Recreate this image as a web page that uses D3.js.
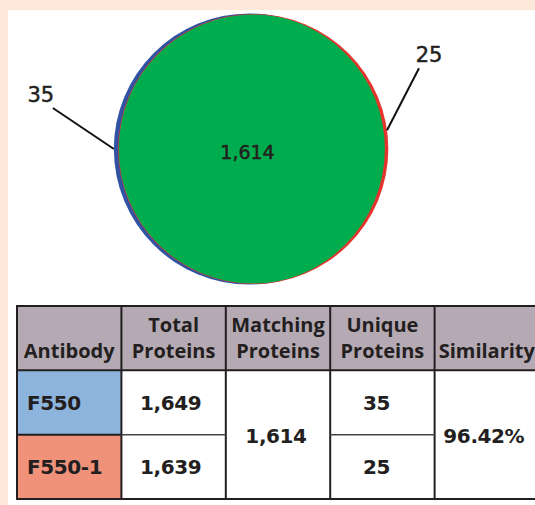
<!DOCTYPE html>
<html>
<head>
<meta charset="utf-8">
<script src="https://cdn.jsdelivr.net/npm/d3@7"></script>
<style>
  html, body { margin: 0; padding: 0; background: #fde8d9; }
  svg { display: block; }
</style>
</head>
<body>
<div id="graph"></div>
<script>
// The data...
var antibodies  = [ 'F550', 'F550-1' ];
var totals      = [ 1649, 1639 ];
var uniques     = [ 35, 25 ];
var matching    = 1614;
var similarity  = '96.42%';

var headerTop    = [ '', 'Total', 'Matching', 'Unique', '' ];
var headerBottom = [ 'Antibody', 'Proteins', 'Proteins', 'Proteins', 'Similarity' ];

var circleColours = [ '#3152a3', '#e5342b' ];
var overlapColour = '#00ad4e';
var cellColours   = [ '#8db4dc', '#f0917a' ];
var headerColour  = '#b5a9b3';
var ink           = '#231f20';

var labelFont = 'DejaVu Sans, sans-serif';
var headFont  = 'Open Sans, sans-serif';
var cellFont  = 'DejaVu Sans, sans-serif';

var width  = 535;
var height = 505;

var svg = d3.select ('#graph').append ('svg')
            .attr ('width', width)
            .attr ('height', height);

// white panel on the beige page
svg.append ('rect')
   .attr ('x', 8).attr ('y', 10)
   .attr ('width', width - 8).attr ('height', height - 10)
   .attr ('fill', '#ffffff');

//
// Venn: two circles, area proportional to total proteins
//
var rScale = d3.scaleSqrt ()
               .domain ([ 0, totals[0] ])
               .range ([ 0, 135.5 ]);

var r1 = rScale (totals[0]);
var r2 = rScale (totals[1]);
var k  = rScale (1);

function overlapArea (d)
{
    if (d >= r1 + r2) return 0;
    if (d <= Math.abs (r1 - r2)) return Math.PI * Math.min (r1, r2) * Math.min (r1, r2);
    var a = r1 * r1 * Math.acos ((d * d + r1 * r1 - r2 * r2) / (2 * d * r1));
    var b = r2 * r2 * Math.acos ((d * d + r2 * r2 - r1 * r1) / (2 * d * r2));
    var c = 0.5 * Math.sqrt ((-d + r1 + r2) * (d + r1 - r2) * (d - r1 + r2) * (d + r1 + r2));
    return a + b - c;
}

// find the centre distance giving the matching area
var target = Math.PI * k * k * matching;
var lo = Math.abs (r1 - r2), hi = r1 + r2;
for (var i = 0; i < 60; i++)
{
    var mid = (lo + hi) / 2;
    if (overlapArea (mid) > target) lo = mid; else hi = mid;
}
var dist = (lo + hi) / 2;

var cx = 251.5, cy = 149;
var c1x = cx - dist / 2 - (r1 - r2) / 2;
var c2x = c1x + dist;

svg.append ('clipPath')
   .attr ('id', 'clipA')
   .append ('circle')
   .attr ('cx', c1x).attr ('cy', cy).attr ('r', r1);

svg.append ('circle')
   .attr ('cx', c1x).attr ('cy', cy).attr ('r', r1)
   .attr ('fill', circleColours[0]);

svg.append ('circle')
   .attr ('cx', c2x).attr ('cy', cy).attr ('r', r2)
   .attr ('fill', circleColours[1]);

svg.append ('circle')
   .attr ('cx', c2x).attr ('cy', cy).attr ('r', r2 - 0.6)
   .attr ('clip-path', 'url(#clipA)')
   .attr ('fill', overlapColour);

function label (x, y, txt, size)
{
    svg.append ('text')
       .attr ('x', x).attr ('y', y)
       .attr ('text-anchor', 'middle')
       .attr ('font-family', labelFont)
       .attr ('font-size', size)
       .attr ('fill', ink)
       .attr ('stroke', ink)
       .attr ('stroke-width', 0.5)
       .text (txt);
}

label (cx - 4, cy + 10, d3.format (',') (matching), '19px');

// leader lines for the unique counts
var leaders = [
    { cx: c1x, r: r1, angle: Math.PI,            dx: -61, dy: -41, tx: -12, ty: -6 },
    { cx: c2x, r: r2, angle: -8 * Math.PI / 180, dx:  32, dy: -62, tx:  10, ty: -6 }
];

leaders.forEach (function (l, i)
{
    var ex = l.cx + l.r * Math.cos (l.angle);
    var ey = cy + l.r * Math.sin (l.angle);

    svg.append ('line')
       .attr ('x1', ex).attr ('y1', ey)
       .attr ('x2', ex + l.dx).attr ('y2', ey + l.dy)
       .attr ('stroke', '#111')
       .attr ('stroke-width', 2);

    label (ex + l.dx + l.tx, ey + l.dy + l.ty, uniques[i], '21px');
});

//
// Table
//
var xBand = d3.scaleBand ()
              .domain (d3.range (headerBottom.length))
              .range ([ 17, 539 ]);

var yBand = d3.scaleBand ()
              .domain ([ 0, 1, 2 ])
              .range ([ 306, 499 ]);

var bw = xBand.bandwidth ();
var bh = yBand.bandwidth ();

var table = svg.append ('g')
               .attr ('font-weight', 700)
               .attr ('fill', ink);

// header
table.append ('rect')
     .attr ('x', xBand (0)).attr ('y', yBand (0))
     .attr ('width', bw * 5).attr ('height', bh)
     .attr ('fill', headerColour);

var head = table.append ('g')
                .attr ('font-family', headFont)
                .attr ('font-size', '20px')
                .attr ('text-anchor', 'middle');

head.selectAll ('.h1')
    .data (headerTop)
    .enter ()
    .append ('text')
    .attr ('x', function (d, i) { return xBand (i) + bw / 2; })
    .attr ('y', yBand (0) + 26)
    .text (function (d) { return d; });

head.selectAll ('.h2')
    .data (headerBottom)
    .enter ()
    .append ('text')
    .attr ('x', function (d, i) { return xBand (i) + bw / 2; })
    .attr ('y', yBand (0) + 52)
    .text (function (d) { return d; });

var cells = table.append ('g')
                 .attr ('font-family', cellFont)
                 .attr ('font-size', '20px')
                 .attr ('letter-spacing', '-0.4px');

// antibody cells
antibodies.forEach (function (name, i)
{
    cells.append ('rect')
         .attr ('x', xBand (0)).attr ('y', yBand (i + 1))
         .attr ('width', bw).attr ('height', bh)
         .attr ('fill', cellColours[i]);

    cells.append ('text')
         .attr ('x', xBand (0) + 10)
         .attr ('y', yBand (i + 1) + bh / 2 + 7)
         .text (name);

    cells.append ('text')
         .attr ('x', xBand (1) + bw / 2 - 3)
         .attr ('y', yBand (i + 1) + bh / 2 + 7)
         .attr ('text-anchor', 'middle')
         .text (d3.format (',') (totals[i]));

    cells.append ('text')
         .attr ('x', xBand (3) + bw / 2 - 6)
         .attr ('y', yBand (i + 1) + bh / 2 + 7)
         .attr ('text-anchor', 'middle')
         .text (uniques[i]);
});

// merged cells
cells.append ('text')
     .attr ('x', xBand (2) + bw / 2 - 2)
     .attr ('y', yBand (2) + 8)
     .attr ('text-anchor', 'middle')
     .text (d3.format (',') (matching));

cells.append ('text')
     .attr ('x', xBand (4) + bw / 2 - 3)
     .attr ('y', yBand (2) + 8)
     .attr ('text-anchor', 'middle')
     .text (similarity);

// grid lines
var grid = svg.append ('g')
              .attr ('stroke', ink)
              .attr ('fill', 'none');

grid.append ('rect')
    .attr ('x', xBand (0)).attr ('y', yBand (0))
    .attr ('width', bw * 5).attr ('height', bh * 3)
    .attr ('stroke-width', 2);

for (var c = 1; c < 5; c++)
{
    grid.append ('line')
        .attr ('x1', xBand (c)).attr ('x2', xBand (c))
        .attr ('y1', yBand (0)).attr ('y2', yBand (2) + bh)
        .attr ('stroke-width', 2);
}

grid.append ('line')
    .attr ('x1', xBand (0)).attr ('x2', xBand (4) + bw)
    .attr ('y1', yBand (1)).attr ('y2', yBand (1))
    .attr ('stroke-width', 2);

[ 0, 1, 3 ].forEach (function (c)
{
    grid.append ('line')
        .attr ('x1', xBand (c)).attr ('x2', xBand (c) + bw)
        .attr ('y1', yBand (2)).attr ('y2', yBand (2))
        .attr ('stroke-width', c == 0 ? 2 : 1.5)
        .attr ('stroke', c == 0 ? ink : '#444');
});
</script>
</body>
</html>
